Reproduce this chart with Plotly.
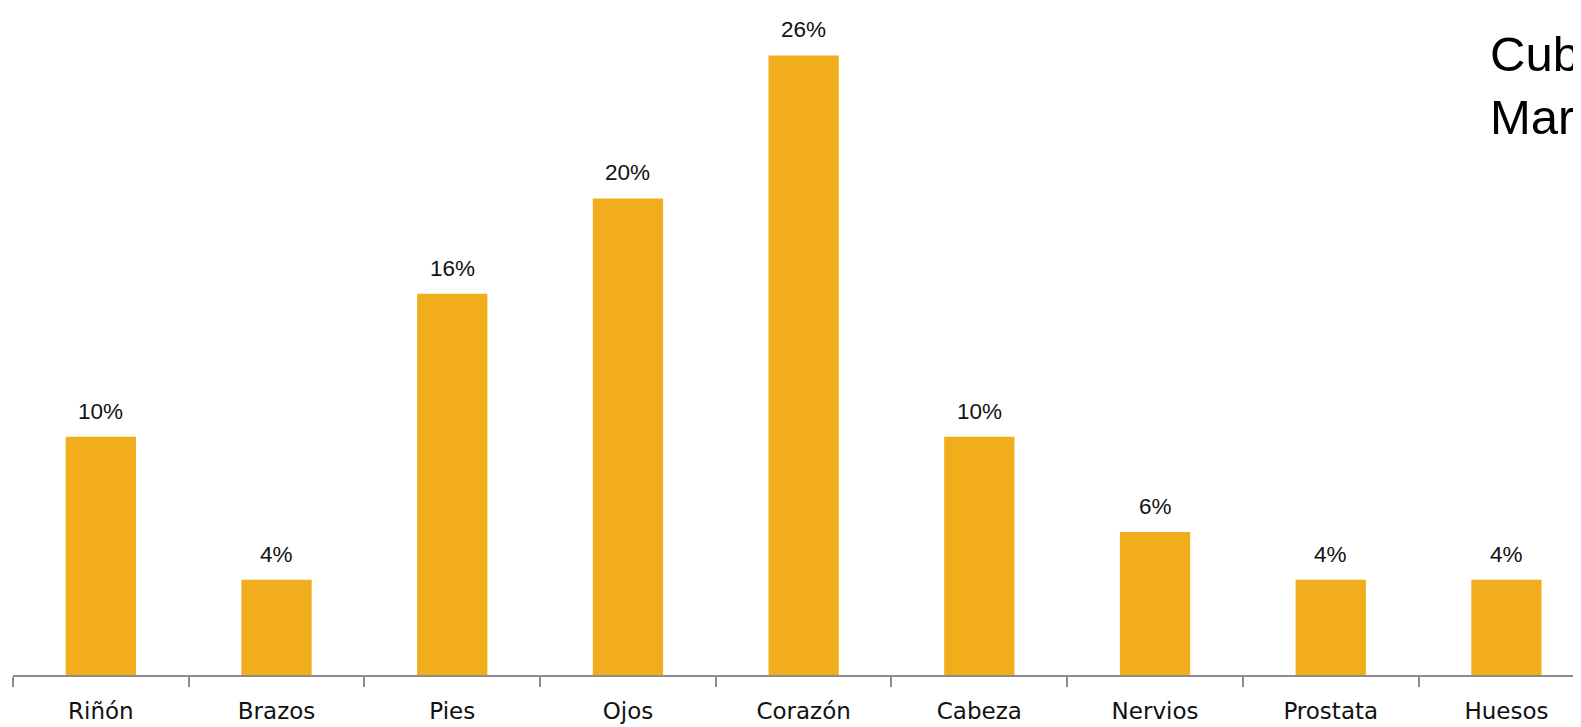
import plotly.graph_objects as go

categories = ["Riñón", "Brazos", "Pies", "Ojos", "Corazón", "Cabeza", "Nervios", "Prostata", "Huesos"]
values = [10, 4, 16, 20, 26, 10, 6, 4, 4]
value_labels = ["10%", "4%", "16%", "20%", "26%", "10%", "6%", "4%", "4%"]
side_text_lines = ["Un", "Cubanos", "Marzo"]

BAR_COLOR = "#F2AD1D"

fig = go.Figure()
fig.add_trace(go.Bar(
    x=categories, y=values, marker=dict(color=BAR_COLOR, line=dict(width=0)),
    width=0.4, hoverinfo="skip",
))

for c, v, t in zip(categories, values, value_labels):
    fig.add_annotation(x=c, y=v, text=t, showarrow=False, yanchor="bottom",
                       yshift=11, font=dict(family="Liberation Sans", size=22.5, color="#111111"))

fig.add_annotation(xref="paper", yref="paper", x=0.9356, y=0.7925,
                   xanchor="left", yanchor="bottom", showarrow=False,
                   text="<br>".join(side_text_lines), align="left",
                   font=dict(family="Liberation Sans", size=49, color="#000000"))

fig.update_layout(
    width=1581, height=727,
    margin=dict(l=5, r=0, t=0, b=59.5, pad=0),
    plot_bgcolor="white", paper_bgcolor="white",
    showlegend=False,
    xaxis=dict(
        type="category", range=[-0.5, 8.47], tickson="boundaries",
        ticks="outside", ticklen=10, tickwidth=2, tickcolor="#8C8C8C",
        showline=True, linecolor="#8C8C8C", linewidth=2,
        showgrid=False, zeroline=False, ticklabelstandoff=14,
        tickfont=dict(family="DejaVu Sans", size=23, color="#111111"),
    ),
    yaxis=dict(range=[0, 27.99], visible=False, showgrid=False, zeroline=False),
)

fig.write_html("out.html")
